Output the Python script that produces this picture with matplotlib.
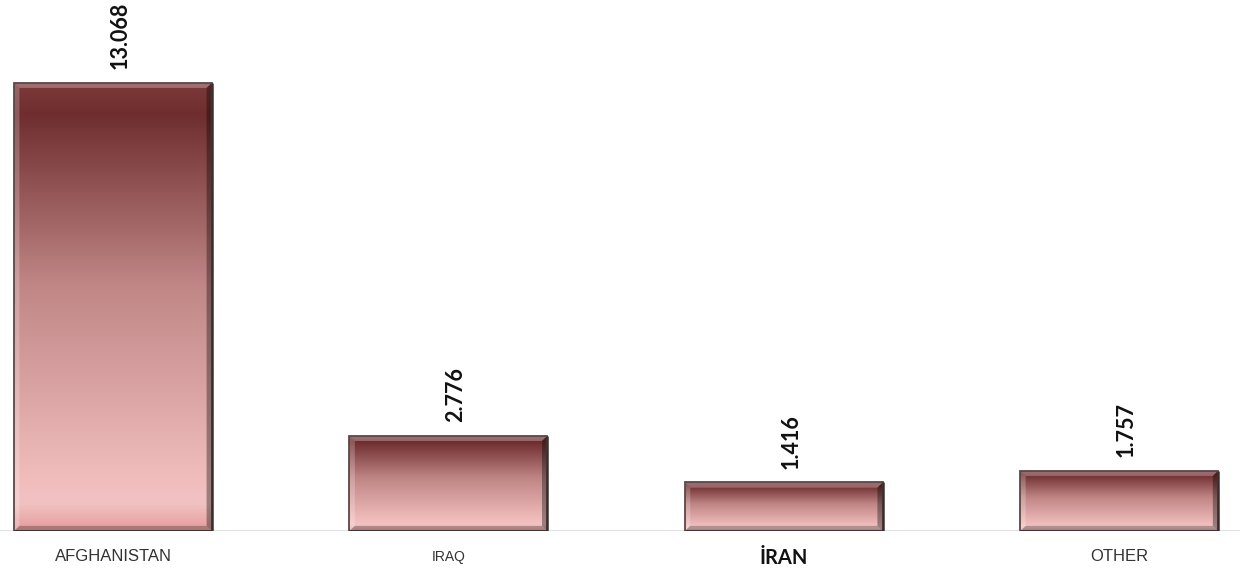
import numpy as np
import matplotlib.pyplot as plt
from matplotlib.colors import LinearSegmentedColormap
from matplotlib.patches import Rectangle, Polygon

# -------------------------
# Data
# -------------------------
countries = ["AFGHANISTAN", "IRAQ", "İRAN", "OTHER"]
values = [13.068, 2.776, 1.416, 1.757]

# per-label style (the source chart mixes fonts)
label_sizes = [12, 10, 14.5, 12]
label_bold = [False, False, True, False]

# -------------------------
# Figure
# -------------------------
fig = plt.figure(figsize=(12.4, 5.71), dpi=100)
ax = fig.add_axes([0, 0.070, 1, 0.930])

bar_cmap = LinearSegmentedColormap.from_list(
    "bevel",
    [(0.0, "#e59c9c"), (0.06, "#f2c2c2"), (0.12, "#f0bcbc"),
     (0.55, "#c08686"), (0.93, "#6f2d2f"), (1.0, "#7d3a3a")]
)

x = np.arange(len(countries))
width = 0.59
bx = 0.016   # bevel width in x units (~5 px)
by = 0.15    # bevel width in y units (~5 px)

grad = np.linspace(0, 1, 256).reshape(-1, 1)

for xi, v in zip(x, values):
    x0 = xi - width / 2
    x1 = x0 + width
    rect = Rectangle((x0, 0), width, v, facecolor="none",
                     edgecolor="#5a4848", linewidth=1.3, zorder=5)
    ax.add_patch(rect)
    im = ax.imshow(grad, extent=[x0, x1, 0, v], origin="lower",
                   cmap=bar_cmap, aspect="auto", zorder=2)
    im.set_clip_path(rect)

    # bevel faces
    faces = [
        ([(x0, v), (x1, v), (x1 - bx, v - by), (x0 + bx, v - by)], "white", 0.28),
        ([(x0, 0), (x0, v), (x0 + bx, v - by), (x0 + bx, by)], "white", 0.22),
        ([(x1, 0), (x1, v), (x1 - bx, v - by), (x1 - bx, by)], "black", 0.35),
        ([(x0, 0), (x1, 0), (x1 - bx, by), (x0 + bx, by)], "black", 0.25),
    ]
    for pts, c, a in faces:
        ax.add_patch(Polygon(pts, closed=True, facecolor=c, alpha=a,
                             edgecolor="none", zorder=3))

    # darker right / bottom outline
    ax.plot([x1, x1, x0], [v, 0, 0], color="#3a2e2e", linewidth=1.8,
            zorder=6, solid_capstyle="butt")

    ax.annotate(
        f"{v:.3f}",
        xy=(xi, v),
        xytext=(5, 10),
        textcoords="offset points",
        rotation=90,
        ha="center",
        va="bottom",
        fontsize=15.5,
        fontweight="bold",
        family=["Lato", "DejaVu Sans"],
        color="#111111",
    )

# baseline
ax.axhline(0, color="#dcdcdc", linewidth=1.2, zorder=1)

ax.set_xlim(-0.337, 3.36)
ax.set_ylim(0, 15.48)

ax.set_xticks([])
ax.set_yticks([])
for xi, name, fs, b in zip(x, countries, label_sizes, label_bold):
    if b:
        ax.text(xi, -0.78, name, ha="center", va="center", fontsize=fs,
                fontweight="bold", family=["Lato", "DejaVu Sans"],
                color="#111111", clip_on=False)
    else:
        ax.text(xi, -0.75, name, ha="center", va="center", fontsize=fs,
                family=["Liberation Sans", "DejaVu Sans"],
                color="#333333", clip_on=False)

for s in ax.spines.values():
    s.set_visible(False)

fig.savefig("out.png", dpi=100)
